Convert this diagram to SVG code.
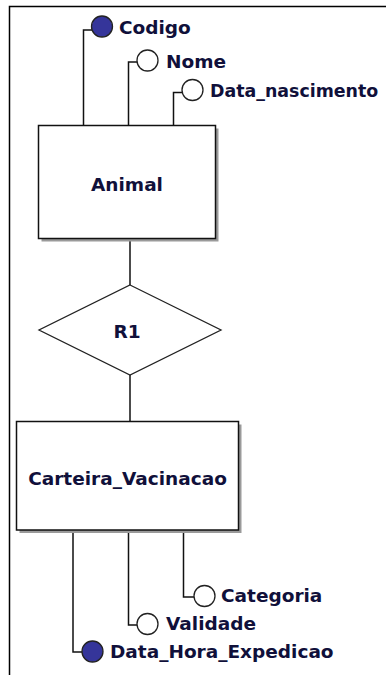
<svg xmlns="http://www.w3.org/2000/svg" width="386" height="675" viewBox="0 0 386 675">
<style>
  .frame{stroke:#000;stroke-width:1.5;fill:none}
  .ent{fill:#fff;stroke:#111;stroke-width:1.5}
  .shadow{fill:#9a9a9a}
  .rel{fill:#fff;stroke:#222;stroke-width:1.3}
  .conn{fill:none;stroke:#111;stroke-width:1.5}
  .att{fill:#fff;stroke:#222;stroke-width:1.3}
  .key{fill:#35359a;stroke:#222;stroke-width:1.3}
  .lbl{font-family:"DejaVu Sans","Liberation Sans",sans-serif;font-weight:bold;font-size:18.5px;fill:#10103a}
  .mid{text-anchor:middle}
</style>
<rect width="386" height="675" fill="#fff"/>
<path class="frame" d="M9.5 675 V6.5 H386"/>
<g id="connectors">
  <path class="conn" d="M83.5 125.5 V30 H92"/>
  <path class="conn" d="M128.5 125.5 V62 H137"/>
  <path class="conn" d="M173.5 125.5 V92.5 H182"/>
  <path class="conn" d="M130 238 V285"/>
  <path class="conn" d="M130 375 V421.5"/>
  <path class="conn" d="M183.5 530 V597 H194"/>
  <path class="conn" d="M128.5 530 V625 H137"/>
  <path class="conn" d="M73 530 V652 H82"/>
</g>
<g id="Animal">
  <rect class="shadow" x="41.5" y="128.5" width="177" height="113"/>
  <rect class="ent" x="38.5" y="125.5" width="177" height="113"/>
  <text class="lbl mid" x="127" y="191">Animal</text>
</g>
<g id="R1">
  <polygon class="rel" points="130,285 221,330 130,375 39,330"/>
  <text class="lbl mid" x="127" y="338">R1</text>
</g>
<g id="Carteira_Vacinacao">
  <rect class="shadow" x="19.5" y="424.5" width="222" height="108.5"/>
  <rect class="ent" x="16.5" y="421.5" width="222" height="108.5"/>
  <text class="lbl mid" x="127.5" y="485">Carteira_Vacinacao</text>
</g>
<g id="attr-Codigo">
  <circle class="key" cx="102" cy="26.5" r="10.5"/>
  <text class="lbl" x="119" y="34">Codigo</text>
</g>
<g id="attr-Nome">
  <circle class="att" cx="147.5" cy="60.5" r="10.5"/>
  <text class="lbl" x="166" y="67.5">Nome</text>
</g>
<g id="attr-Data_nascimento">
  <circle class="att" cx="192.5" cy="90" r="10.5"/>
  <text class="lbl" x="210" y="96.5" style="font-size:17.4px">Data_nascimento</text>
</g>
<g id="attr-Categoria">
  <circle class="att" cx="204.5" cy="596" r="10.5"/>
  <text class="lbl" x="221" y="602">Categoria</text>
</g>
<g id="attr-Validade">
  <circle class="att" cx="147.5" cy="624" r="10.5"/>
  <text class="lbl" x="166" y="630">Validade</text>
</g>
<g id="attr-Data_Hora_Expedicao">
  <circle class="key" cx="92.5" cy="651.5" r="10.5"/>
  <text class="lbl" x="110" y="658">Data_Hora_Expedicao</text>
</g>
</svg>
